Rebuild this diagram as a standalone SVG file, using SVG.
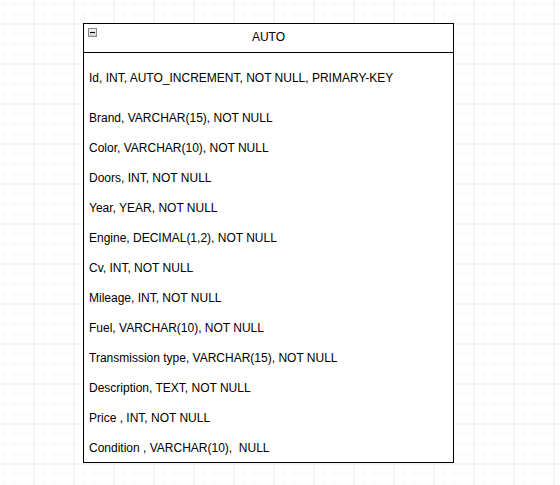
<svg xmlns="http://www.w3.org/2000/svg" width="560" height="485" viewBox="0 0 560 485">
<defs>
<pattern id="minor" x="3.5" y="3.5" width="10" height="10" patternUnits="userSpaceOnUse">
<path d="M0 0H10M0 0V10" fill="none" stroke="#f1f1f1" stroke-width="1"/>
</pattern>
<pattern id="major" x="33.5" y="23.5" width="40" height="40" patternUnits="userSpaceOnUse">
<path d="M0 0H40M0 0V40" fill="none" stroke="#e2e2e2" stroke-width="1"/>
</pattern>
<linearGradient id="ig" x1="0" y1="0" x2="0" y2="1">
<stop offset="0" stop-color="#f4f4f4"/>
<stop offset="1" stop-color="#cfcfcf"/>
</linearGradient>
</defs>
<style>
.t{font-family:"Liberation Sans",Arial,Helvetica,sans-serif;font-size:12px;fill:#000}
</style>
<rect width="560" height="485" fill="#fff"/>
<rect width="560" height="485" fill="url(#minor)"/>
<rect width="560" height="485" fill="url(#major)"/>
<g id="auto">
<rect x="83.5" y="23.5" width="370" height="439" fill="#fff" stroke="#000" stroke-width="1"/>
<line x1="83.5" y1="52.5" x2="453.5" y2="52.5" stroke="#000"/>
<rect x="88.5" y="28.5" width="8" height="8" fill="url(#ig)" stroke="#8a8a8a"/>
<line x1="90" y1="32.5" x2="95" y2="32.5" stroke="#000"/>
<text class="t" x="268.5" y="41" text-anchor="middle">AUTO</text>
<text class="t" x="89" y="82">Id, INT, AUTO_INCREMENT, NOT NULL, PRIMARY-KEY</text>
<text class="t" x="89" y="122">Brand, VARCHAR(15), NOT NULL</text>
<text class="t" x="89" y="152">Color, VARCHAR(10), NOT NULL</text>
<text class="t" x="89" y="182">Doors, INT, NOT NULL</text>
<text class="t" x="89" y="212">Year, YEAR, NOT NULL</text>
<text class="t" x="89" y="242">Engine, DECIMAL(1,2), NOT NULL</text>
<text class="t" x="89" y="272">Cv, INT, NOT NULL</text>
<text class="t" x="89" y="302">Mileage, INT, NOT NULL</text>
<text class="t" x="89" y="332">Fuel, VARCHAR(10), NOT NULL</text>
<text class="t" x="89" y="362">Transmission type, VARCHAR(15), NOT NULL</text>
<text class="t" x="89" y="392">Description, TEXT, NOT NULL</text>
<text class="t" x="89" y="422">Price , INT, NOT NULL</text>
<text class="t" x="89" y="452" xml:space="preserve">Condition , VARCHAR(10),  NULL</text>
</g>
<g id="connectors"/>
</svg>
